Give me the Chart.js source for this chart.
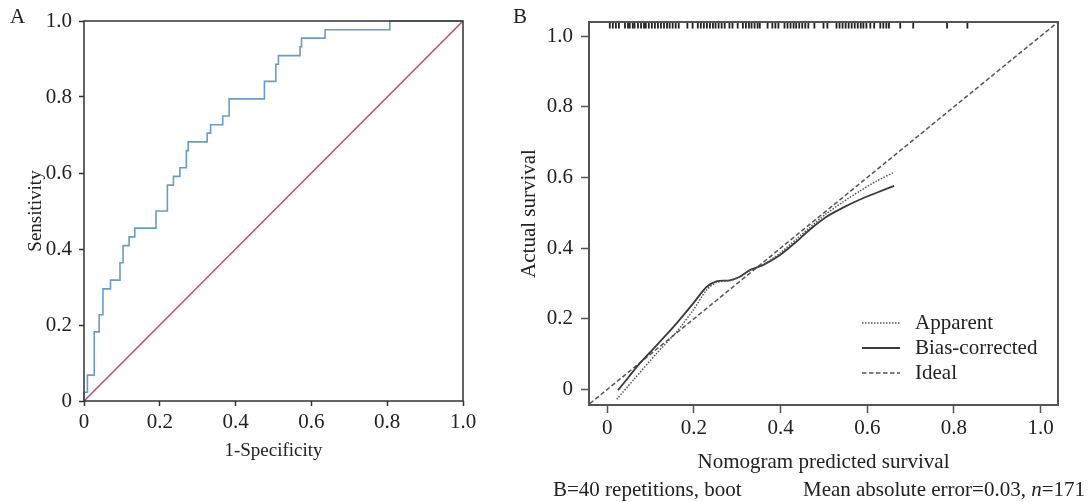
<!DOCTYPE html>
<html><head><meta charset="utf-8">
<script src="https://cdn.jsdelivr.net/npm/chart.js@4.4.0/dist/chart.umd.min.js"></script>
<style>
html,body{margin:0;padding:0;background:#fff;width:1088px;height:502px;overflow:hidden;position:relative;}
canvas{position:absolute;top:0;}
.lbl{position:absolute;font-family:"Liberation Serif",serif;font-size:21px;color:#222;line-height:1;white-space:nowrap;}
</style></head><body>
<canvas id="cA" width="540" height="502" style="left:0"></canvas>
<canvas id="cB" width="588" height="502" style="left:500px"></canvas>
<div class="lbl" style="left:10px;top:6px">A</div>
<div class="lbl" style="left:513px;top:6px">B</div>
<div class="lbl" style="left:553px;top:479px">B=40 repetitions, boot</div>
<div class="lbl" style="right:3px;top:479px">Mean absolute error=0.03, <i>n</i>=171</div>
<script>
// ---------- Panel A: ROC ----------
const rocFpr = [0, 0, 0.009, 0.027, 0.040, 0.050, 0.070, 0.095, 0.103, 0.119, 0.134, 0.190, 0.220, 0.236, 0.253, 0.270, 0.275, 0.325, 0.334, 0.366, 0.383, 0.476, 0.506, 0.513, 0.570, 0.574, 0.636, 0.807, 1.0];
const rocTpr = [0, 0.023, 0.068, 0.182, 0.227, 0.295, 0.318, 0.364, 0.409, 0.432, 0.455, 0.500, 0.568, 0.591, 0.614, 0.659, 0.682, 0.705, 0.727, 0.750, 0.795, 0.841, 0.886, 0.909, 0.932, 0.955, 0.977, 1.0, 1.0];
const refX = [0, 1];
const refY = [0, 1];
const ticksA = [0, 0.2, 0.4, 0.6, 0.8, 1.0];

// ---------- Panel B: calibration ----------
const biasX = [0.025, 0.05, 0.075, 0.114, 0.16, 0.198, 0.229, 0.252, 0.283, 0.306, 0.328, 0.359, 0.398, 0.436, 0.467, 0.505, 0.543, 0.582, 0.62, 0.662];
const biasY = [-0.002, 0.036, 0.074, 0.125, 0.187, 0.243, 0.29, 0.306, 0.309, 0.319, 0.337, 0.352, 0.38, 0.418, 0.452, 0.488, 0.514, 0.537, 0.556, 0.576];
const appX = [0.022, 0.06, 0.114, 0.16, 0.198, 0.229, 0.252, 0.283, 0.306, 0.328, 0.359, 0.398, 0.436, 0.467, 0.505, 0.543, 0.582, 0.62, 0.659];
const appY = [-0.028, 0.026, 0.102, 0.163, 0.224, 0.281, 0.303, 0.308, 0.318, 0.336, 0.352, 0.385, 0.425, 0.458, 0.497, 0.53, 0.561, 0.589, 0.613];
const idealX = [-0.04, 1.04];
const idealY = [-0.04, 1.04];
const rugX = [0.006, 0.013, 0.020, 0.027, 0.041, 0.048, 0.052, 0.059, 0.063, 0.071, 0.078, 0.085, 0.089, 0.096, 0.103, 0.110, 0.117, 0.124, 0.131, 0.138, 0.144, 0.151, 0.158, 0.165, 0.185, 0.197, 0.209, 0.216, 0.223, 0.230, 0.237, 0.244, 0.250, 0.257, 0.264, 0.271, 0.282, 0.289, 0.301, 0.313, 0.320, 0.327, 0.333, 0.340, 0.347, 0.352, 0.370, 0.381, 0.388, 0.395, 0.409, 0.416, 0.423, 0.430, 0.436, 0.443, 0.450, 0.457, 0.464, 0.478, 0.499, 0.508, 0.529, 0.536, 0.543, 0.550, 0.557, 0.564, 0.571, 0.578, 0.585, 0.591, 0.598, 0.607, 0.616, 0.630, 0.637, 0.644, 0.650, 0.676, 0.706, 0.784, 0.831];
const rugY = 1.03;
const ticksB = [0, 0.2, 0.4, 0.6, 0.8, 1.0];
const legendLabels = ['Apparent', 'Bias-corrected', 'Ideal'];

const serif = "'Liberation Serif', 'Times New Roman', serif";
const fmt = v => v === 0 ? '0' : Number(v).toFixed(1);
const pts = (xs, ys) => xs.map((x, i) => ({x: x, y: ys[i]}));

const frame = {
  id: 'frame',
  afterDatasetsDraw(chart, args, o) {
    const {ctx, chartArea: a} = chart;
    ctx.save();
    ctx.strokeStyle = o.color; ctx.lineWidth = o.width;
    ctx.strokeRect(a.left, a.top, a.right - a.left, a.bottom - a.top);
    ctx.restore();
  }
};

const calLegend = {
  id: 'calLegend',
  afterDatasetsDraw(chart, args, o) {
    if (!o.items) return;
    const ctx = chart.ctx;
    ctx.save();
    o.items.forEach((di, i) => {
      const ds = chart.data.datasets[di];
      const y = o.y0 + i * o.dy;
      ctx.beginPath();
      ctx.setLineDash(ds.borderDash || []);
      ctx.strokeStyle = ds.borderColor; ctx.lineWidth = ds.borderWidth;
      ctx.moveTo(o.x0, y); ctx.lineTo(o.x1, y); ctx.stroke();
      ctx.setLineDash([]);
      ctx.fillStyle = '#222'; ctx.font = o.font; ctx.textBaseline = 'alphabetic';
      ctx.fillText(ds.label, o.tx, y + 5.5);
    });
    ctx.restore();
  }
};

function axis(opts) {
  return {
    type: 'linear', min: opts.min, max: opts.max,
    afterBuildTicks: s => { s.ticks = opts.ticks.map(v => ({value: v})); },
    afterFit: opts.fit,
    grid: {display: true, drawOnChartArea: false, drawTicks: true, tickLength: opts.tl, tickColor: opts.col, tickWidth: 1.5},
    border: {display: false},
    ticks: {font: {family: serif, size: 21}, color: '#222', padding: opts.pad, callback: fmt, maxRotation: 0, autoSkip: false},
    title: {display: true, text: opts.title, font: {family: serif, size: opts.tsize}, color: '#222', padding: opts.tpad}
  };
}

new Chart(document.getElementById('cA'), {
  type: 'line',
  data: {datasets: [
    {data: pts(rocFpr, rocTpr), borderColor: '#6b9cc7', borderWidth: 1.6, stepped: 'before', pointRadius: 0, fill: false, clip: 3},
    {data: pts(refX, refY), borderColor: '#c4506c', borderWidth: 1.6, pointRadius: 0, fill: false, clip: 3}
  ]},
  options: {
    responsive: false, animation: false, devicePixelRatio: 1,
    layout: {padding: {left: 0, top: 21, right: 77, bottom: 0}},
    plugins: {legend: {display: false}, tooltip: {enabled: false}, frame: {color: '#333', width: 1.5}},
    scales: {
      x: axis({min: 0, max: 1, ticks: ticksA, fit: s => { s.height = 101; }, tl: 5, col: '#333', pad: 4,
               title: '1-Specificity', tsize: 19, tpad: {top: 0, bottom: 40}}),
      y: axis({min: 0, max: 1, ticks: ticksA, fit: s => { s.width = 84; }, tl: 5, col: '#333', pad: 7,
               title: 'Sensitivity', tsize: 19, tpad: {top: 25, bottom: 0}})
    }
  },
  plugins: [frame]
});

new Chart(document.getElementById('cB'), {
  type: 'line',
  data: {datasets: [
    {label: legendLabels[0], data: pts(appX, appY), borderColor: '#555', borderWidth: 1.5, borderDash: [1.5, 1.5], pointRadius: 0, fill: false, tension: 0.25},
    {label: legendLabels[1], data: pts(biasX, biasY), borderColor: '#3a3a3a', borderWidth: 1.8, pointRadius: 0, fill: false, tension: 0.25},
    {label: legendLabels[2], data: pts(idealX, idealY), borderColor: '#555', borderWidth: 1.5, borderDash: [4.5, 2.5], pointRadius: 0, fill: false},
    {label: 'rug', data: rugX.map(x => ({x: x, y: rugY})), showLine: false, pointStyle: 'line', pointRotation: 90, pointRadius: 3,
     borderColor: '#222', borderWidth: 1.8, pointBorderColor: '#222', pointBorderWidth: 1.8}
  ]},
  options: {
    responsive: false, animation: false, devicePixelRatio: 1,
    layout: {padding: {left: 0, top: 22, right: 30, bottom: 0}},
    plugins: {legend: {display: false}, tooltip: {enabled: false}, frame: {color: '#555', width: 2},
      calLegend: {items: [0, 1, 2], x0: 362, x1: 400, tx: 415, y0: 323, dy: 25, font: "21px 'Liberation Serif', serif"}},
    scales: {
      x: axis({min: -0.042, max: 1.04, ticks: ticksB, fit: s => { s.height = 97; }, tl: 8, col: '#555', pad: 3,
               title: 'Nomogram predicted survival', tsize: 21, tpad: {top: 0, bottom: 27}}),
      y: axis({min: -0.044, max: 1.04, ticks: ticksB, fit: s => { s.width = 89; }, tl: 8, col: '#555', pad: 8,
               title: 'Actual survival', tsize: 21, tpad: {top: 17, bottom: 0}})
    }
  },
  plugins: [frame, calLegend]
});
</script>
</body></html>
